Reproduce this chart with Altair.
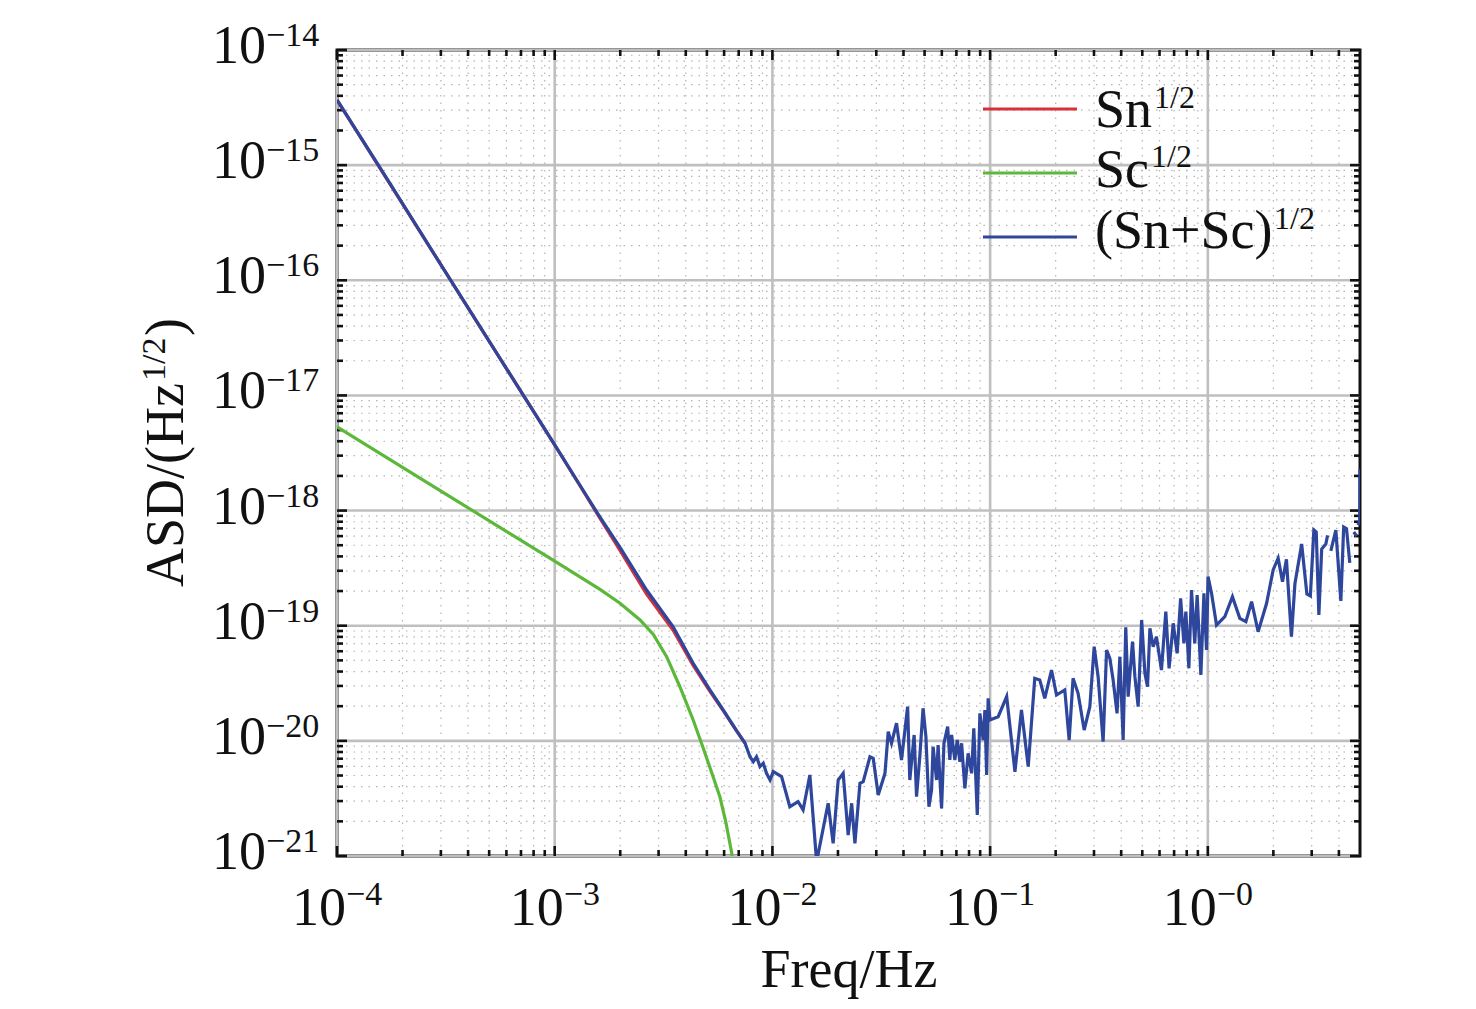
import altair as alt
import pandas as pd

# ---------------- data (log10 values) ----------------
blue_logf = [
    -4.000, -3.757, -3.500, -3.000, -2.884, -2.801, -2.700, -2.578, -2.456, -2.364, -2.287, -2.226, -2.164, -2.126,
    -2.103, -2.088, -2.073, -2.057, -2.042, -2.027, -2.011, -1.996, -1.958, -1.920, -1.882, -1.859, -1.828, -1.797,
    -1.744, -1.721, -1.698, -1.675, -1.652, -1.636, -1.621, -1.598, -1.583, -1.552, -1.537, -1.514, -1.483, -1.468,
    -1.453, -1.430, -1.407, -1.379, -1.369, -1.349, -1.338, -1.323, -1.308, -1.295, -1.281, -1.269, -1.262, -1.246,
    -1.239, -1.223, -1.212, -1.195, -1.185, -1.177, -1.162, -1.151, -1.139, -1.131, -1.116, -1.101, -1.085, -1.075,
    -1.059, -1.047, -1.032, -1.024, -1.016, -1.009, -1.001, -0.963, -0.924, -0.886, -0.856, -0.825, -0.795, -0.772,
    -0.749, -0.718, -0.695, -0.657, -0.637, -0.619, -0.596, -0.568, -0.542, -0.522, -0.504, -0.481, -0.465, -0.450,
    -0.435, -0.417, -0.404, -0.389, -0.377, -0.366, -0.346, -0.335, -0.320, -0.304, -0.289, -0.277, -0.266, -0.251,
    -0.236, -0.213, -0.193, -0.178, -0.159, -0.141, -0.125, -0.110, -0.101, -0.087, -0.075, -0.060, -0.049, -0.032,
    -0.018, -0.006, 0.001, 0.017, 0.040, 0.078, 0.113, 0.147, 0.175, 0.201, 0.231, 0.270, 0.300, 0.323, 0.343, 0.361,
    0.384, 0.400, 0.431, 0.455, 0.471, 0.487, 0.498, 0.510, 0.523, 0.542, 0.550,
    0.565, 0.588, 0.611, 0.624, 0.637, 0.652,
    0.670, 0.684,
    0.689, 0.698, 0.699,
]
blue_loga = [
    -14.434, -15.158, -15.934, -17.430, -17.780, -18.030, -18.320, -18.690, -19.009, -19.326, -19.558, -19.732, -19.914, -20.019,
    -20.138, -20.181, -20.138, -20.224, -20.195, -20.282, -20.340, -20.268, -20.311, -20.572, -20.528, -20.600, -20.296, -21.050,
    -20.542, -20.890, -20.340, -20.282, -20.818, -20.542, -20.890, -20.369, -20.355, -20.138, -20.151, -20.470, -20.282, -19.920,
    -20.021, -19.847, -20.166, -19.703, -20.340, -19.949, -20.485, -20.138, -19.717, -19.964, -20.572, -20.427, -20.051, -20.340,
    -20.036, -20.586, -20.021, -19.877, -20.166, -19.949, -20.166, -19.993, -20.181, -20.021, -20.412, -20.108, -20.282, -19.891,
    -20.644, -19.761, -19.993, -19.732, -20.296, -19.630, -19.819, -19.790, -19.616, -20.268, -19.732, -20.224, -19.457, -19.471,
    -19.630, -19.385, -19.602, -19.558, -19.993, -19.457, -19.587, -19.906, -19.703, -19.182, -19.443, -20.007, -19.211, -19.283,
    -19.471, -19.761, -19.269, -19.993, -19.014, -19.616, -19.139, -19.443, -19.703, -18.950, -19.413, -19.530, -19.022, -19.182,
    -19.095, -19.385, -18.878, -19.370, -18.979, -19.240, -18.762, -19.153, -18.878, -19.370, -18.690, -19.153, -18.733, -19.428,
    -18.718, -19.211, -18.574, -18.718, -18.994, -18.922, -18.748, -18.936, -18.965, -18.791, -19.052, -18.805, -18.516, -18.414, -18.618, -18.423,
    -19.095, -18.636, -18.290, -18.724, -18.741, -18.169, -18.186, -18.907, -18.334, -18.290, -18.216,
    -18.351, -18.169, -18.785, -18.143, -18.157, -18.455,
    -18.186, -18.221,
    -18.125, -18.090, -17.640,
]
blue_segment_lengths = [153, 6, 2, 3]

red_logf = [-4.000, -3.500, -3.000, -2.884, -2.801, -2.700, -2.578, -2.456, -2.364, -2.287, -2.226, -2.164, -2.126]
red_loga = [-14.434, -15.934, -17.430, -17.783, -18.040, -18.345, -18.725, -19.040, -19.345, -19.570, -19.738, -19.916, -20.020]

green_logf = [-4.000, -3.500, -3.000, -2.884, -2.792, -2.700, -2.608, -2.547, -2.486, -2.425, -2.364, -2.318,
              -2.272, -2.241, -2.214, -2.187, -2.168]
green_loga = [-17.274, -17.857, -18.440, -18.575, -18.685, -18.805, -18.950, -19.075, -19.269, -19.530, -19.819,
              -20.062, -20.314, -20.488, -20.705, -20.974, -21.208]

x_major_exp = [-4, -3, -2, -1, 0]
x_major_labels = ["\u22124", "\u22123", "\u22122", "\u22121", "\u22120"]
y_major_exp = [-21, -20, -19, -18, -17, -16, -15, -14]
y_major_labels = ["\u221221", "\u221220", "\u221219", "\u221218", "\u221217", "\u221216", "\u221215", "\u221214"]
minor_mult = [2, 3, 4, 5, 6, 7, 8, 9]
x_last_decade_minor = [2, 3, 4]

legend_names = ["Sn", "Sc", "(Sn+Sc)"]
legend_sup = "1/2"
colors = ["#d7303a", "#5cb83a", "#2e479c"]

x_title = "Freq/Hz"
y_title_main = "ASD/(Hz"
y_title_sup = "1/2"
y_title_close = ")"

# ---------------- layout constants ----------------
FONT = "Times New Roman, Liberation Serif, serif"
INK = "#111111"
W, H = 1023, 806

xs = alt.Scale(type="log", domain=[1e-4, 5], nice=False)
ys = alt.Scale(type="log", domain=[1e-21, 1e-14], nice=False)


def X():
    return alt.X("f:Q", scale=xs, axis=None)


def Y():
    return alt.Y("a:Q", scale=ys, axis=None)


one = pd.DataFrame({"k": [0]})

# ---------------- curves ----------------
seg_ids = []
for i, n in enumerate(blue_segment_lengths):
    seg_ids += [i] * n
blue_df = pd.DataFrame({"f": [10 ** v for v in blue_logf], "a": [10 ** v for v in blue_loga], "seg": seg_ids})
red_df = pd.DataFrame({"f": [10 ** v for v in red_logf], "a": [10 ** v for v in red_loga]})
green_df = pd.DataFrame({"f": [10 ** v for v in green_logf], "a": [10 ** v for v in green_loga]})

# ---------------- grid / ticks ----------------
x_major = [10.0 ** e for e in x_major_exp]
y_major = [10.0 ** e for e in y_major_exp]
x_minor = [m * 10.0 ** e for e in x_major_exp[:-1] for m in minor_mult] + [float(m) for m in x_last_decade_minor]
y_minor = [m * 10.0 ** e for e in y_major_exp[:-1] for m in minor_mult]

xmaj_df = pd.DataFrame({"f": x_major})
xmin_df = pd.DataFrame({"f": x_minor})
ymaj_df = pd.DataFrame({"a": y_major})
ymin_df = pd.DataFrame({"a": y_minor})

layers = []
DOT = dict(color="#b4b4b4", strokeWidth=1.2, strokeDash=[1.5, 6])
layers.append(alt.Chart(xmin_df).mark_rule(**DOT).encode(x=X()))
layers.append(alt.Chart(ymin_df).mark_rule(**DOT).encode(y=Y()))
layers.append(alt.Chart(xmaj_df).mark_rule(color="#bfbfbf", strokeWidth=2.6).encode(x=X()))
layers.append(alt.Chart(ymaj_df).mark_rule(color="#bfbfbf", strokeWidth=2.6).encode(y=Y()))

TK = dict(color=INK, strokeWidth=2.6)
for dfx, ln in ((xmaj_df, 10), (xmin_df, 6)):
    layers.append(alt.Chart(dfx).mark_rule(**TK).encode(x=X(), y=alt.value(H), y2=alt.value(H - ln)))
    layers.append(alt.Chart(dfx).mark_rule(**TK).encode(x=X(), y=alt.value(0), y2=alt.value(ln)))
for dfy, ln in ((ymaj_df, 10), (ymin_df, 6)):
    layers.append(alt.Chart(dfy).mark_rule(**TK).encode(y=Y(), x=alt.value(0), x2=alt.value(ln)))
    layers.append(alt.Chart(dfy).mark_rule(**TK).encode(y=Y(), x=alt.value(W), x2=alt.value(W - ln)))

# ---------------- lines ----------------
layers.append(alt.Chart(red_df).mark_line(color=colors[0], strokeWidth=3.2, clip=True).encode(x=X(), y=Y()))
layers.append(alt.Chart(green_df).mark_line(color=colors[1], strokeWidth=3.2, clip=True).encode(x=X(), y=Y()))
layers.append(alt.Chart(blue_df).mark_line(color=colors[2], strokeWidth=3.2, clip=True).encode(
    x=X(), y=Y(), detail="seg:N"))

# ---------------- tick labels ----------------
xl_df = pd.DataFrame({"f": x_major, "sup": x_major_labels})
yl_df = pd.DataFrame({"a": y_major, "sup": y_major_labels})
layers.append(alt.Chart(xl_df).mark_text(text="10", font=FONT, fontSize=54, align="right", baseline="alphabetic",
                                         dx=9, color=INK).encode(x=X(), y=alt.value(H + 69)))
layers.append(alt.Chart(xl_df).mark_text(font=FONT, fontSize=34, align="left", baseline="alphabetic",
                                         dx=9, color=INK).encode(x=X(), y=alt.value(H + 49), text="sup:N"))
layers.append(alt.Chart(yl_df).mark_text(text="10", font=FONT, fontSize=54, align="right", baseline="alphabetic",
                                         dy=13, color=INK).encode(y=Y(), x=alt.value(-71)))
layers.append(alt.Chart(yl_df).mark_text(font=FONT, fontSize=34, align="left", baseline="alphabetic",
                                         dy=-4, color=INK).encode(y=Y(), x=alt.value(-71), text="sup:N"))

# ---------------- axis titles ----------------
layers.append(alt.Chart(one).mark_text(text=x_title, font=FONT, fontSize=54, align="center", baseline="alphabetic",
                                       color=INK).encode(x=alt.value(512), y=alt.value(937)))
layers.append(alt.Chart(one).mark_text(text=y_title_main, font=FONT, fontSize=54, align="left", baseline="alphabetic",
                                       angle=270, color=INK).encode(x=alt.value(-154), y=alt.value(537)))
layers.append(alt.Chart(one).mark_text(text=y_title_sup, font=FONT, fontSize=34, align="left", baseline="alphabetic",
                                       angle=270, color=INK).encode(x=alt.value(-172), y=alt.value(331)))
layers.append(alt.Chart(one).mark_text(text=y_title_close, font=FONT, fontSize=54, align="left", baseline="alphabetic",
                                       angle=270, color=INK).encode(x=alt.value(-154), y=alt.value(286)))

# ---------------- legend ----------------
line_y = [59, 123, 187]
text_y = [77, 137, 198]
sup_y = [58, 117, 179]
sup_x = [817, 814, 937]
for i, name in enumerate(legend_names):
    layers.append(alt.Chart(one).mark_rule(color=colors[i], strokeWidth=3).encode(
        x=alt.value(646), x2=alt.value(740), y=alt.value(line_y[i])))
    layers.append(alt.Chart(one).mark_text(text=name, font=FONT, fontSize=54, align="left", baseline="alphabetic",
                                           color=INK).encode(x=alt.value(758), y=alt.value(text_y[i])))
    layers.append(alt.Chart(one).mark_text(text=legend_sup, font=FONT, fontSize=32, align="left",
                                           baseline="alphabetic", color=INK).encode(
        x=alt.value(sup_x[i]), y=alt.value(sup_y[i])))

chart = alt.layer(*layers).properties(
    width=W,
    height=H,
    autosize=alt.AutoSizeParams(type="none"),
    padding={"left": 329, "top": 42, "right": 100, "bottom": 145},
    background="white",
).configure_view(stroke=INK, strokeWidth=3)

chart.save("out.html", embed_options={"renderer": "svg", "actions": False})
